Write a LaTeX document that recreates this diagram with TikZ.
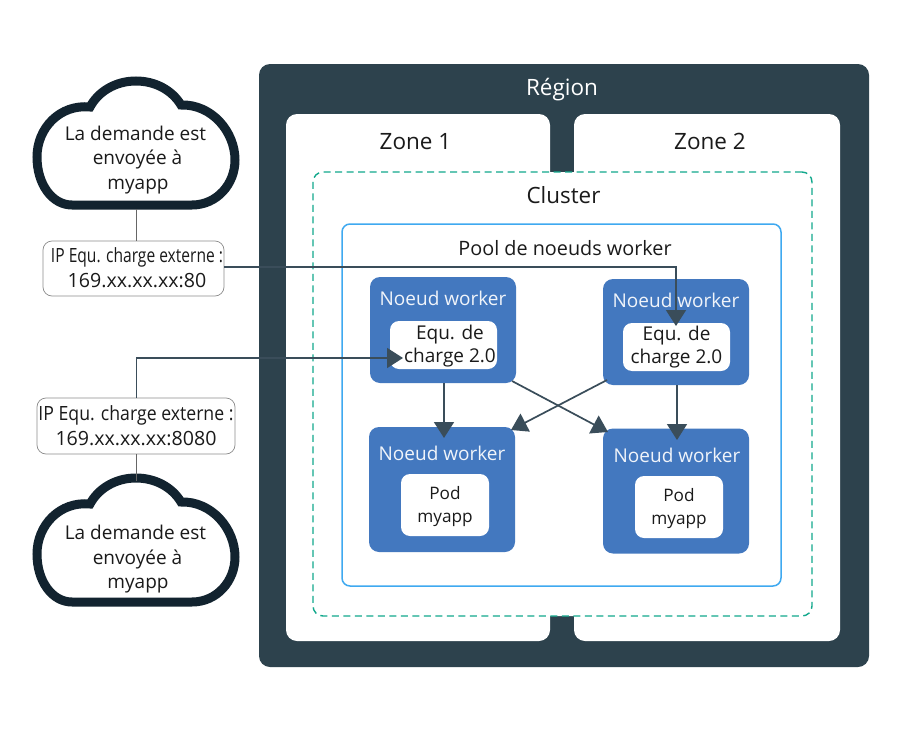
\documentclass[tikz,border=0pt]{standalone}
\usepackage{graphicx}
\usepackage{fontspec}
\setmainfont{Open Sans}
\usetikzlibrary{arrows.meta}
\definecolor{regionc}{HTML}{2D424D}
\definecolor{workerc}{HTML}{4378BF}
\definecolor{cloudc}{HTML}{12232F}
\definecolor{clusterc}{HTML}{12A88C}
\definecolor{poolc}{HTML}{3FA9F0}
\definecolor{linkc}{HTML}{3A4D5A}
\definecolor{textc}{HTML}{1A1A1A}
\newcommand{\cloudshape}[1]{%
  \draw[cloudstroke,yshift=#1]
    (72,205) -- (192,205)
    .. controls (217,205) and (235,184) .. (235,160)
    .. controls (235,132) and (212,104) .. (181,105)
    .. controls (172,90) and (155,81) .. (136,81)
    .. controls (115,81) and (98,92) .. (90,107)
    .. controls (60,104) and (37,128) .. (37,157)
    .. controls (37,184) and (52,205) .. (72,205) -- cycle;}
\tikzset{
  x=1pt,y=-1pt,
  every node/.style={inner sep=0pt,outer sep=0pt,text=textc},
  regionbox/.style={fill=regionc,rounded corners=11pt},
  zonebox/.style={fill=white,rounded corners=11pt},
  clusterbox/.style={draw=clusterc,fill=white,line width=1.4pt,dash pattern=on 7pt off 4.5pt,rounded corners=10pt},
  poolbox/.style={draw=poolc,fill=white,line width=1.5pt,rounded corners=8pt},
  workerbox/.style={fill=workerc,rounded corners=10pt,minimum width=146pt},
  innerbox/.style={fill=white,rounded corners=9pt},
  ipbox/.style={draw=black!45,fill=white,line width=0.7pt,rounded corners=9pt},
  cloudstroke/.style={draw=cloudc,fill=white,line width=9pt},
  title/.style={font=\fontsize{22.5}{26}\selectfont},
  wtitle/.style={font=\fontsize{19}{22}\selectfont,text=white!92!workerc},
  eqtext/.style={font=\fontsize{19}{23}\selectfont,align=center},
  podtext/.style={font=\fontsize{17.2}{23}\selectfont,align=center},
  cloudtext/.style={font=\fontsize{19}{24.5}\selectfont,align=center},
  iptext/.style={font=\fontsize{19.6}{24}\selectfont},
  link/.style={draw=linkc,line width=1.7pt},
  linkarrow/.style={link,-{Triangle[width=20pt,length=16pt]}},
  stem/.style={draw=black!60,line width=1pt},
}
\begin{document}
\begin{tikzpicture}
\useasboundingbox (0,0) rectangle (919,736);
\fill[white] (0,0) rectangle (919,736);
% region and zones
\node[regionbox,minimum width=610pt,minimum height=603pt] (region) at (564,365.5) {};
\node[zonebox,minimum width=264pt,minimum height=527pt] (zone1) at (418,377.5) {};
\node[zonebox,minimum width=266pt,minimum height=527pt] (zone2) at (707,377.5) {};
\node[clusterbox,minimum width=499pt,minimum height=444pt] (cluster) at (562.5,394) {};
\node[poolbox,minimum width=439pt,minimum height=362pt] (pool) at (561.5,405) {};
\node[title,text=white] (tregion) at (562,90) {Région};
\node[title] (tzone1) at (415.5,141.5) {Zone 1};
\node[title] (tzone2) at (710,141) {Zone 2};
\node[font=\fontsize{22.4}{26}\selectfont] (tcluster) at (563.5,195.5) {Cluster};
\node[font=\fontsize{19.8}{24}\selectfont] (tpool) at (565,248.5) {Pool de noeuds worker};
% workers
\node[workerbox,minimum height=106pt] (wa) at (443,330) {};
\node[workerbox,minimum height=106pt] (wb) at (676,332) {};
\node[workerbox,minimum height=125pt] (wc) at (442,489.5) {};
\node[workerbox,minimum height=125pt] (wd) at (676,491) {};
\node[wtitle] (twa) at (443,298) {Noeud worker};
\node[wtitle] (twb) at (676,300) {Noeud worker};
\node[wtitle] (twc) at (442,453) {Noeud worker};
\node[wtitle] (twd) at (677,455) {Noeud worker};
\node[innerbox,minimum width=107pt,minimum height=48pt] (ea) at (443.5,345) {};
\node[innerbox,minimum width=107pt,minimum height=48pt] (eb) at (676.5,347) {};
\node[innerbox,minimum width=88pt,minimum height=62pt] (pc) at (445,505) {};
\node[innerbox,minimum width=88pt,minimum height=62pt] (pd) at (679,507) {};
% clouds
\cloudshape{0pt}
\cloudshape{-397pt}
\coordinate (c1bot) at (136,209);
\coordinate (c2top) at (136,481);
% ip boxes
\node[ipbox,minimum width=181pt,minimum height=55pt] (ip1) at (133.5,268.5) {};
\node[ipbox,minimum width=198pt,minimum height=56pt] (ip2) at (136,426) {};
\coordinate (ip1top) at (136,241);
\coordinate (ip2bot) at (136,454);
\draw[stem] (c1bot) -- (ip1top);
\draw[stem] (ip2bot) -- (c2top);
% arrow end points
\coordinate (tipeb) at (676,326);
\coordinate (tipea) at (403,358);
\coordinate (tipwc) at (444,438);
\coordinate (tipwd) at (677,440);
\coordinate (tipxd) at (608,432);
\coordinate (tipxc) at (511,430);
\coordinate (ip1r) at (224,267);
\coordinate (ip2t) at (136.5,398);
\coordinate (startac) at (444,383);
\coordinate (startbd) at (677,385);
\coordinate (startad) at (512,381);
\coordinate (startbc) at (607,380);
\path[linkarrow] (ip1r) -| (tipeb);
\path[linkarrow] (ip2t) |- (tipea);
\path[linkarrow] (startac) -- (tipwc);
\path[linkarrow] (startbd) -- (tipwd);
\path[linkarrow] (startad) -- (tipxd);
\path[linkarrow] (startbc) -- (tipxc);
% texts over boxes
\node[eqtext] (tea) at (450,346) {Equ. de\\charge 2.0};
\node[eqtext] (teb) at (676.5,347) {Equ. de\\charge 2.0};
\node[podtext] (tpc) at (445,507) {Pod\\myapp};
\node[podtext] (tpd) at (679,509) {Pod\\myapp};
\node[cloudtext] (tc1) at (135.5,160) {La demande est\\\hspace*{4pt}envoyée à\\\hspace*{5pt}myapp};
\node[cloudtext] (tc2) at (135.5,559.5) {La demande est\\\hspace*{4pt}envoyée à\\\hspace*{5pt}myapp};
\node[iptext] (tip1a) at (137,257.5) {\resizebox{172pt}{\height}{IP Equ. charge externe :}};
\node[iptext] (tip1b) at (137,281) {169.xx.xx.xx:80};
\node[iptext] (tip2a) at (136,415) {\resizebox{195pt}{\height}{IP Equ. charge externe :}};
\node[iptext] (tip2b) at (136,438.5) {169.xx.xx.xx:8080};
\end{tikzpicture}
\end{document}
